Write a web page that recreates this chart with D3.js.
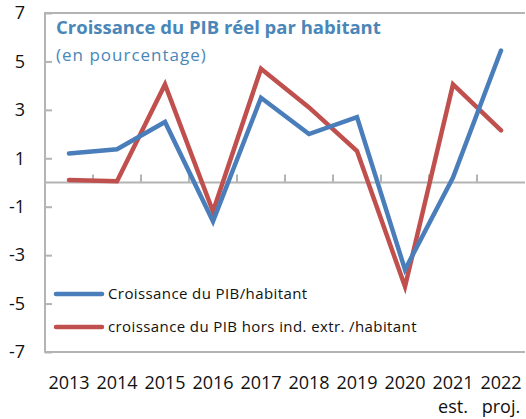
<!DOCTYPE html>
<html>
<head>
<meta charset="utf-8">
<script src="https://cdnjs.cloudflare.com/ajax/libs/d3/7.8.5/d3.min.js"></script>
<style>
  body { margin: 0; background: #fff; }
  #space { width: 526px; height: 419px; }
</style>
</head>
<body>
<div id="space"></div>
<script>
// chart data
var years = ["2013", "2014", "2015", "2016", "2017", "2018", "2019", "2020", "2021", "2022"];
var subLabels = ["", "", "", "", "", "", "", "", "est.", "proj."];
var pibHabitant = [1.2, 1.37, 2.5, -1.6, 3.5, 2.0, 2.7, -3.6, 0.2, 5.45];
var pibHorsExtr = [0.1, 0.05, 4.05, -1.2, 4.7, 3.1, 1.3, -4.3, 4.05, 2.15];
var yTicks = [7, 5, 3, 1, -1, -3, -5, -7];
var seriesNames = ["Croissance du PIB/habitant", "croissance du PIB hors ind. extr. /habitant"];

var svg, x, y;
var fontFam = "'Open Sans', 'Noto Sans', sans-serif";
var gray = "#b4b4b4";

initSvg();
drawAxes();
drawLines();
drawLabels();

function initSvg() {
    svg = d3.select("#space").append("svg")
        .attr("xmlns", "http://www.w3.org/2000/svg")
        .attr("width", 526)
        .attr("height", 419);

    x = d3.scaleBand().domain(years).range([45, 525]);
    y = d3.scaleLinear().domain([-7, 7]).range([352, 13]);
}

function drawAxes() {
    //Plot box border
    svg.append("path")
        .attr("d", "M" + x.range()[1] + "," + y(7) + "H" + x.range()[0] + "V" + y(-7) + "H" + x.range()[1])
        .attr("fill", "none")
        .attr("stroke", gray)
        .attr("stroke-width", 2);

    //Y axis, ticks inside, plain hyphen for minus
    var yAxis = svg.append("g")
        .attr("transform", "translate(" + x.range()[0] + ",0)")
        .call(d3.axisLeft(y).tickValues(yTicks).tickSize(-7).tickPadding(20)
            .tickFormat(function (d) { return String(d); }));
    yAxis.select(".domain").remove();
    yAxis.selectAll("line").attr("stroke", gray).attr("stroke-width", 2);
    yAxis.selectAll("text")
        .attr("font-family", fontFam)
        .attr("font-size", 18)
        .attr("fill", "#111");

    //X axis at zero, ticks between categories
    var xAxis = svg.append("g").attr("transform", "translate(0," + y(0) + ")");
    xAxis.append("line")
        .attr("x1", x.range()[0]).attr("x2", x.range()[1])
        .attr("stroke", gray).attr("stroke-width", 2);
    xAxis.selectAll(".tk")
        .data(years.slice(1))
        .enter().append("line")
        .attr("x1", function (d) { return x(d); })
        .attr("x2", function (d) { return x(d); })
        .attr("y1", 0).attr("y2", -8)
        .attr("stroke", gray).attr("stroke-width", 2);
}

function drawLines() {
    var line = d3.line()
        .x(function (d, i) { return x(years[i]) + x.bandwidth() / 2; })
        .y(function (d) { return y(d); });

    var series = [
        { vals: pibHorsExtr, color: "#c0504d" },
        { vals: pibHabitant, color: "#4a7ebb" }
    ];
    series.forEach(function (s) {
        svg.append("path")
            .datum(s.vals)
            .attr("d", line)
            .attr("fill", "none")
            .attr("stroke", s.color)
            .attr("stroke-width", 4.5)
            .attr("stroke-linejoin", "miter")
            .attr("stroke-linecap", "round");
    });
}

function drawLabels() {
    var xl = svg.append("g");
    xl.selectAll(".yr")
        .data(years)
        .enter().append("text")
        .attr("x", function (d) { return x(d) + x.bandwidth() / 2; })
        .attr("y", 389)
        .attr("text-anchor", "middle")
        .attr("font-family", fontFam)
        .attr("font-size", 18)
        .attr("fill", "#111")
        .text(function (d) { return d; });
    xl.selectAll(".sub")
        .data(subLabels)
        .enter().append("text")
        .attr("x", function (d, i) { return x(years[i]) + x.bandwidth() / 2; })
        .attr("y", 413)
        .attr("text-anchor", "middle")
        .attr("font-family", fontFam)
        .attr("font-size", 18)
        .attr("fill", "#111")
        .text(function (d) { return d; });

    //Title
    svg.append("text")
        .attr("x", 56).attr("y", 34)
        .attr("font-family", fontFam)
        .attr("font-size", 18.5)
        .attr("font-weight", "bold")
        .attr("fill", "#4a86b8")
        .text("Croissance du PIB réel par habitant");
    svg.append("text")
        .attr("x", 56).attr("y", 61)
        .attr("font-family", fontFam)
        .attr("font-size", 17)
        .attr("letter-spacing", 1)
        .attr("fill", "#4a86b8")
        .text("(en pourcentage)");

    //Legend
    var colors = ["#4a7ebb", "#c0504d"];
    var lg = svg.append("g");
    seriesNames.forEach(function (name, i) {
        var ly = 294 + i * 33;
        lg.append("line")
            .attr("x1", 56).attr("x2", 102)
            .attr("y1", ly).attr("y2", ly)
            .attr("stroke", colors[i])
            .attr("stroke-width", 4.5)
            .attr("stroke-linecap", "round");
        lg.append("text")
            .attr("x", 108).attr("y", ly + 5)
            .attr("font-family", fontFam)
            .attr("font-size", 15)
            .attr("letter-spacing", 0.4)
            .attr("fill", "#111")
            .text(name);
    });
}
</script>
</body>
</html>
